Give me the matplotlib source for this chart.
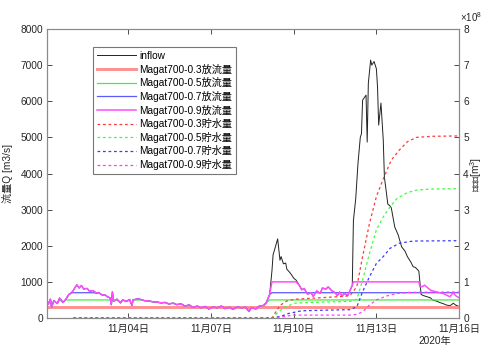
import numpy as np
import pandas as pd
import matplotlib
matplotlib.use("Agg")
import matplotlib.pyplot as plt
import matplotlib.dates as mdates

plt.rcParams['font.family'] = ['Liberation Sans', 'Noto Sans CJK JP', 'DejaVu Sans']
plt.rcParams['mathtext.fontset'] = 'custom'
plt.rcParams['mathtext.rm'] = 'Liberation Sans'
plt.rcParams['mathtext.it'] = 'Liberation Sans'

# ---------------- data (hours after 2020-11-01 00:00) ----------------
inflow_hours = [0, 2, 4, 5, 7, 10, 12, 15, 17, 20,
                23, 27, 29, 31, 33, 36, 38, 41, 44, 46,
                49, 52, 54, 56, 57, 58, 59, 62, 65, 67,
                70, 73, 75, 76, 80, 83, 86, 90, 93, 97,
                100, 104, 107, 111, 114, 118, 121, 125, 128, 132,
                135, 139, 142, 146, 149, 153, 156, 160, 163, 167,
                170, 174, 177, 179, 183, 186, 190, 192, 195, 197,
                198, 202, 204, 205, 207, 209, 210, 212, 214, 216,
                218, 221, 223, 225, 228, 231, 233, 236, 239, 241,
                244, 246, 249, 252, 254, 256, 258, 260, 263, 265,
                267, 268, 270, 272, 274, 275, 276, 279, 280, 281,
                283, 284, 286, 288, 289, 290, 292, 294, 295, 297,
                298, 300, 301, 304, 307, 310, 313, 315, 318, 320,
                322, 325, 327, 329, 332, 335, 337, 341, 343, 346,
                349, 352, 354, 355, 357, 360]
inflow = [450, 380, 520, 300, 480, 400, 550, 430, 500, 650,
          720, 920, 830, 900, 800, 820, 740, 760, 690, 700,
          640, 630, 580, 560, 370, 730, 470, 520, 420, 500,
          460, 510, 350, 500, 530, 510, 480, 470, 450, 440,
          420, 430, 390, 410, 370, 390, 330, 360, 290, 330,
          280, 320, 250, 310, 280, 330, 260, 300, 240, 310,
          280, 300, 180, 290, 250, 330, 350, 420, 650, 1300,
          1750, 2190, 1600, 1700, 1500, 1520, 1350, 1280, 1200, 1100,
          1050, 900, 780, 820, 660, 700, 600, 750, 680, 830,
          800, 860, 760, 700, 620, 720, 600, 680, 620, 760,
          900, 2700, 3300, 4290, 5000, 5100, 6030, 6170, 4870, 6500,
          7140, 7000, 7100, 6900, 6400, 5340, 5950, 4930, 3900, 3400,
          3150, 3100, 3050, 2520, 2300, 1970, 1850, 1700, 1550, 1420,
          1400, 1300, 650, 620, 590, 560, 500, 460, 430, 400,
          360, 340, 380, 410, 360, 320]

control_start_hour = 197          # flood control begins
release_caps = [300, 500, 700, 1000]   # Magat700-0.3/0.5/0.7/0.9
tail_hours_09 = [326, 328, 330, 335, 340, 346, 352, 355, 357, 360]
tail_release_09 = [860, 870, 910, 775, 720, 680, 590, 700, 620, 560]

sto_hours_03 = [24, 197, 200, 204, 210, 217, 239, 260, 265, 271, 276, 282, 288, 294, 301, 308, 315, 323, 337, 360]
sto_03 = [0, 0, 0.15, 0.35, 0.47, 0.52, 0.56, 0.6, 0.62, 0.87, 1.70, 2.62, 3.36, 3.85, 4.37, 4.65, 4.88, 5.0, 5.03, 5.04]
sto_hours_05 = [24, 197, 202, 208, 217, 239, 265, 271, 276, 282, 288, 294, 300, 306, 315, 323, 335, 360]
sto_05 = [0, 0, 0.15, 0.3, 0.41, 0.44, 0.46, 0.52, 1.05, 1.79, 2.44, 2.8, 3.08, 3.31, 3.47, 3.54, 3.57, 3.58]
sto_hours_07 = [24, 197, 205, 212, 223, 247, 265, 271, 276, 282, 288, 294, 300, 308, 320, 360]
sto_07 = [0, 0, 0.05, 0.13, 0.2, 0.22, 0.23, 0.31, 0.73, 1.14, 1.51, 1.70, 1.93, 2.07, 2.13, 2.14]
sto_hours_09 = [24, 197, 208, 215, 265, 271, 276, 282, 288, 297, 306, 317, 360]
sto_09 = [0, 0, 0.04, 0.08, 0.08, 0.1, 0.17, 0.36, 0.5, 0.61, 0.68, 0.71, 0.72]

labels = ['inflow',
          'Magat700-0.3放流量', 'Magat700-0.5放流量', 'Magat700-0.7放流量', 'Magat700-0.9放流量',
          'Magat700-0.3貯水量', 'Magat700-0.5貯水量', 'Magat700-0.7貯水量', 'Magat700-0.9貯水量']
xtick_dates = ['2020-11-04', '2020-11-07', '2020-11-10', '2020-11-13', '2020-11-16']

# ---------------- derived series ----------------
base = pd.Timestamp('2020-11-01 00:00')
def to_t(h):
    return base + pd.to_timedelta(np.asarray(h, dtype=float), unit='h')

ih = np.asarray(inflow_hours, dtype=float)
iq = np.asarray(inflow, dtype=float)
t_in = to_t(ih)

releases = [(t_in, np.full_like(iq, release_caps[0]))]
for cap in release_caps[1:3]:
    r = np.where(ih < control_start_hour, np.minimum(iq, cap), cap)
    releases.append((t_in, r))
m_mask = ih <= 325
h09 = np.concatenate([ih[m_mask], tail_hours_09])
r09 = np.concatenate([np.minimum(iq[m_mask], release_caps[3]), tail_release_09])
releases.append((to_t(h09), r09))

# ---------------- figure ----------------
fig = plt.figure(figsize=(4.83, 3.47), dpi=100)
ax = fig.add_axes([47/483, (347-318)/347, 412/483, 289/347])
ax2 = ax.twinx()

rel_colors = ['#ff9090', '#3cf03c', '#5a5aff', '#ff4cff']
rel_lw = [2.1, 0.9, 0.9, 1.1]
sto_colors = ['#ff3a3a', '#3aff3a', '#3a3aff', '#ff3aff']

h_in, = ax.plot(t_in, iq, color='#222222', lw=0.7, label=labels[0])
handles = [h_in]
for (tt, rr), c, lw, lab in zip(releases, rel_colors, rel_lw, labels[1:5]):
    hl, = ax.plot(tt, rr, color=c, lw=lw, label=lab)
    handles.append(hl)

for hh, ss, c, lab in zip([sto_hours_03, sto_hours_05, sto_hours_07, sto_hours_09],
                          [sto_03, sto_05, sto_07, sto_09], sto_colors, labels[5:]):
    hl, = ax2.plot(to_t(hh), ss, color=c, lw=0.9, ls=(0, (2.2, 2.2)), label=lab)
    handles.append(hl)

xmin = pd.Timestamp('2020-11-01 01:00')
xmax = pd.Timestamp('2020-11-16 00:00')
ax.set_xlim(xmin, xmax)
ax.set_ylim(0, 8000)
ax2.set_ylim(0, 8)
ax.set_yticks(np.arange(0, 8001, 1000))
ax2.set_yticks(np.arange(0, 9, 1))
ax.set_xticks(pd.to_datetime(xtick_dates))
ax.xaxis.set_major_formatter(mdates.DateFormatter('%m月%d日'))

axis_col = '#4d4d4d'
for a in (ax, ax2):
    for s in a.spines.values():
        s.set_color('#8a8a8a')
        s.set_linewidth(0.8)
ax.tick_params(axis='both', direction='in', length=3.5, width=0.7, color=axis_col,
               labelsize=7.3, labelcolor='#262626', top=True, pad=3)
ax.tick_params(axis='x', pad=4)
ax.tick_params(axis='y', right=False)
ax2.tick_params(axis='y', direction='in', length=3.5, width=0.7, color=axis_col,
                labelsize=7.3, labelcolor='#262626', pad=3)

ax.set_ylabel('流量Q [m3/s]', fontsize=7.3, color='#262626', labelpad=5)
fig.text(0.986, 173/347, '貯水量[m$^3$]', rotation=90, fontsize=7.3, color='#262626',
         ha='center', va='center')
fig.text(460/483, 1 - 17/347, r'$\times10^8$', fontsize=7, color='#262626', ha='left', va='center')
fig.text(435/483, 1 - 341/347, '2020年', fontsize=7.3, color='#262626', ha='center', va='center')

leg = ax2.legend(handles=handles, loc='upper left', bbox_to_anchor=(0.112, 0.938),
                 borderaxespad=0, fontsize=7.3, frameon=True, fancybox=False,
                 handlelength=3.8, handletextpad=0.35, labelspacing=0.26,
                 borderpad=0.4)
leg.get_frame().set_edgecolor('#555555')
leg.get_frame().set_linewidth(0.8)

fig.savefig('out.png', dpi=100)
